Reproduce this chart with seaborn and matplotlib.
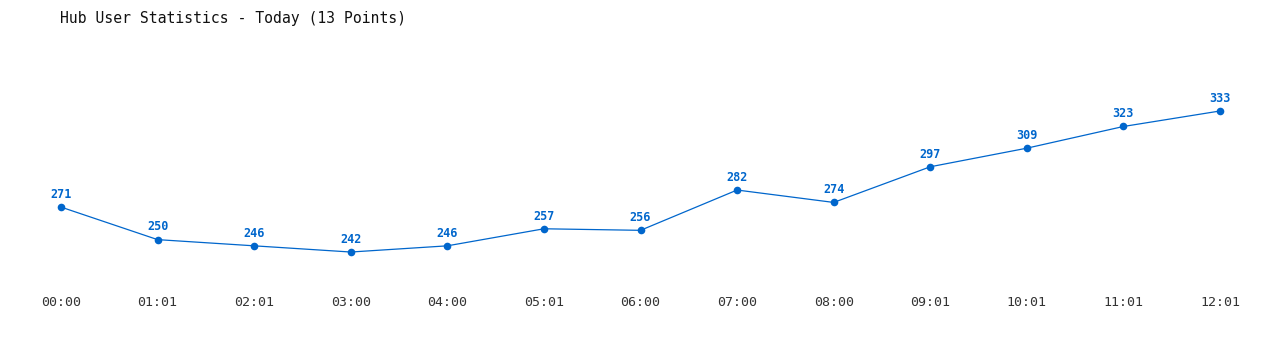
import matplotlib
matplotlib.use("Agg")
import matplotlib.pyplot as plt
import seaborn as sns
import pandas as pd

times = ["00:00", "01:01", "02:01", "03:00", "04:00", "05:01", "06:00",
         "07:00", "08:00", "09:01", "10:01", "11:01", "12:01"]
users = [271, 250, 246, 242, 246, 257, 256, 282, 274, 297, 309, 323, 333]
title = "Hub User Statistics - Today (13 Points)"

sns.set_theme(style="white")
plt.rcParams['font.family'] = ['DejaVu Sans Mono', 'DejaVu Sans']

blue = "#0066cc"
df = pd.DataFrame({"idx": range(len(times)), "users": users})

fig = plt.figure(figsize=(12.8, 3.5), dpi=100)
ax = fig.add_axes([61 / 1280, 60 / 350, 1159 / 1280, 250 / 350])

sns.lineplot(data=df, x="idx", y="users", ax=ax, color=blue, linewidth=0.9,
             marker="o", markersize=5.5, markeredgewidth=0, clip_on=False)

for i, v in enumerate(users):
    ax.annotate(str(v), (i, v), xytext=(0, 4.5), textcoords="offset points",
                ha="center", va="bottom", fontsize=8.5, fontweight="bold",
                color=blue)

ax.set_xlim(0, 12)
ax.set_ylim(217.5, 378.8)
ax.set_xticks(range(len(times)))
ax.set_xticklabels(times, fontsize=9.5, color="#333333")
ax.set_yticks([])
ax.set_xlabel("")
ax.set_ylabel("")
ax.tick_params(axis="x", length=0, pad=4.5)
for s in ax.spines.values():
    s.set_visible(False)

fig.text(60 / 1280, 1 - 18 / 350, title, fontsize=10.6, color="#111111",
         ha="left", va="center")

fig.savefig("out.png", dpi=100)
